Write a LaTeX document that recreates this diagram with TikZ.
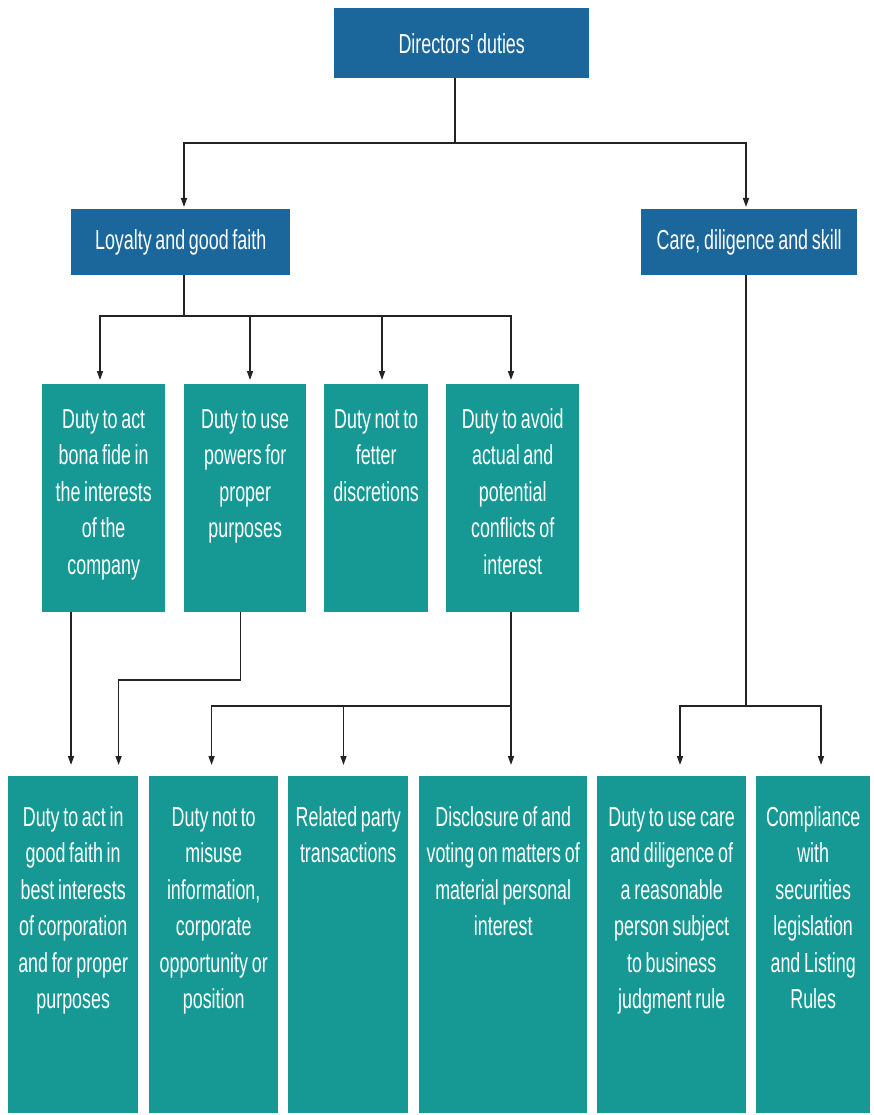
\documentclass[tikz,border=0pt]{standalone}
\usepackage{fontspec}
\usetikzlibrary{arrows.meta}
\newfontfamily\condsans[FakeStretch=0.65,WordSpace=0.75]{Liberation Sans}
\definecolor{hdblue}{RGB}{27,103,155}
\definecolor{dteal}{RGB}{22,153,149}
\definecolor{linegray}{RGB}{35,35,35}
\newcommand\boxlines[1]{\begin{tabular}[t]{@{}c@{}}#1\end{tabular}}
\tikzset{
  boxfont/.style={font=\condsans\fontsize{27.5}{36.5}\selectfont, text=white},
  bluebox/.style={boxfont, fill=hdblue, anchor=north west, inner sep=0pt, align=center},
  tealmid/.style={boxfont, fill=dteal, anchor=north west, inner sep=0pt,
                  minimum height=228pt, text height=44pt, text depth=184pt},
  tealbot/.style={boxfont, fill=dteal, anchor=north west, inner sep=0pt,
                  minimum height=337pt, text height=50pt, text depth=287pt},
  conn/.style={draw=linegray, line width=1.5pt},
  arr/.style={conn, -{Triangle[length=9pt,width=6pt]}},
}
\begin{document}
\begin{tikzpicture}[x=1pt,y=-1pt]
\useasboundingbox (0,0) rectangle (873,1115);
\fill[white] (0,0) rectangle (873,1115);
% level 0
\node[bluebox, minimum width=255pt, minimum height=70pt] (dd) at (334,8) {Directors' duties};
% level 1
\node[bluebox, minimum width=219pt, minimum height=66pt] (loy) at (71,209) {Loyalty and good faith};
\node[bluebox, minimum width=216pt, minimum height=66pt] (care) at (641,209) {Care, diligence and skill};
% level 2
\node[tealmid, minimum width=123pt] (m1) at (42,384) {\boxlines{Duty to act\\bona fide in\\the interests\\of the\\company}};
\node[tealmid, minimum width=122pt] (m2) at (184,384) {\boxlines{Duty to use\\powers for\\proper\\purposes}};
\node[tealmid, minimum width=104pt] (m3) at (324,384) {\boxlines{Duty not to\\fetter\\discretions}};
\node[tealmid, minimum width=133pt] (m4) at (446,384) {\boxlines{Duty to avoid\\actual and\\potential\\conflicts of\\interest}};
% level 3
\node[tealbot, minimum width=130pt] (b1) at (8,776) {\boxlines{Duty to act in\\good faith in\\best interests\\of corporation\\and for proper\\purposes}};
\node[tealbot, minimum width=129pt] (b2) at (149,776) {\boxlines{Duty not to\\misuse\\information,\\corporate\\opportunity or\\position}};
\node[tealbot, minimum width=120pt] (b3) at (288,776) {\boxlines{Related party\\transactions}};
\node[tealbot, minimum width=168pt] (b4) at (419,776) {\boxlines{Disclosure of and\\voting on matters of\\material personal\\interest}};
\node[tealbot, minimum width=149pt] (b5) at (597,776) {\boxlines{Duty to use care\\and diligence of\\a reasonable\\person subject\\to business\\judgment rule}};
\node[tealbot, minimum width=114pt] (b6) at (756,776) {\boxlines{Compliance\\with\\securities\\legislation\\and Listing\\Rules}};
% junctions
\coordinate (j0) at (455,143);
\coordinate (j1) at (184,316);
\coordinate (j2) at (240.5,680);
\coordinate (j3) at (511,706);
\coordinate (j4) at (746,706);
% connectors level 0 -> 1
\draw[conn] (dd.south -| j0) -- (j0);
\draw[arr, shorten >=2pt] (j0) -| (loy.north -| 184,0);
\draw[arr, shorten >=2pt] (j0) -| (care.north -| 746,0);
% level 1 -> 2
\draw[conn] (loy.south -| j1) -- (j1);
\draw[arr, shorten >=4pt] (j1) -| (m1.north -| 100,0);
\draw[arr, shorten >=4pt] (j1) -| (m2.north -| 250,0);
\draw[arr, shorten >=4pt] (j1) -| (m3.north -| 382,0);
\draw[arr, shorten >=4pt] (j1) -| (m4.north -| 511,0);
% level 2 -> 3
\draw[arr, shorten >=11pt] (m1.south -| 71,0) -- (b1.north -| 71,0);
\draw[conn] (m2.south -| j2) -- (j2);
\draw[arr, shorten >=11pt] (j2) -| (b1.north -| 118.6,0);
\draw[conn] (m4.south -| j3) -- (j3);
\draw[arr, shorten >=11pt] (j3) -- (b4.north -| j3);
\draw[arr, shorten >=11pt] (j3) -| (b2.north -| 211.6,0);
\draw[arr, shorten >=11pt] (j3 -| 343.5,0) -- (b3.north -| 343.5,0);
\draw[conn] (care.south -| j4) -- (j4);
\draw[arr, shorten >=11pt] (j4) -| (b5.north -| 680,0);
\draw[arr, shorten >=11pt] (j4) -| (b6.north -| 821,0);
\end{tikzpicture}
\end{document}
